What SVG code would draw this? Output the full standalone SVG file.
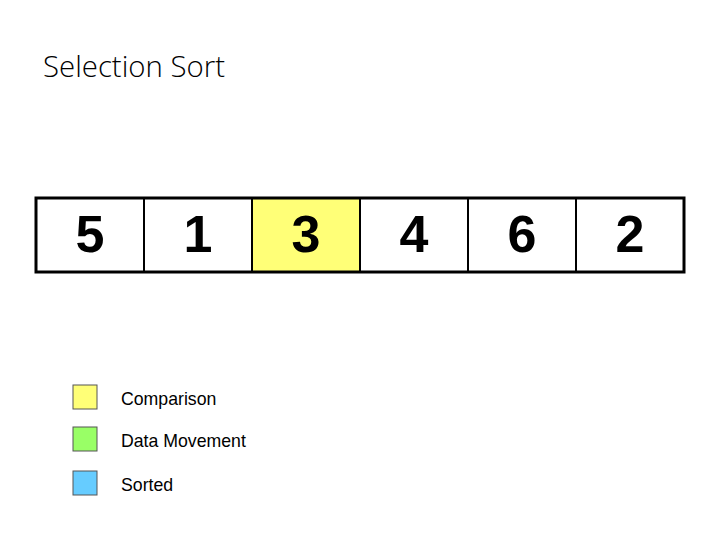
<svg xmlns="http://www.w3.org/2000/svg" width="720" height="540" viewBox="0 0 720 540">
<style>
.cell{fill:#fff;stroke:#000;stroke-width:2}
.num{font-family:"Liberation Sans",Arial,sans-serif;font-size:52px;font-weight:bold;text-anchor:middle;fill:#000}
.leg{font-family:"Liberation Sans",Arial,sans-serif;font-size:17.7px;fill:#000}
.sw{stroke:#555;stroke-width:1}
</style>
<rect width="720" height="540" fill="#fff"/>
<text x="43" y="77" font-family="'Open Sans',sans-serif" font-weight="300" font-size="29" textLength="182" lengthAdjust="spacingAndGlyphs" fill="#000">Selection Sort</text>
<g id="array">
<g id="cell0"><rect class="cell" x="36" y="198" width="108" height="74"/><text class="num" x="90" y="252">5</text></g>
<g id="cell1"><rect class="cell" x="144" y="198" width="108" height="74"/><text class="num" x="198" y="252">1</text></g>
<g id="cell2"><rect class="cell" x="252" y="198" width="108" height="74" style="fill:#ffff77"/><text class="num" x="306" y="252">3</text></g>
<g id="cell3"><rect class="cell" x="360" y="198" width="108" height="74"/><text class="num" x="414" y="252">4</text></g>
<g id="cell4"><rect class="cell" x="468" y="198" width="108" height="74"/><text class="num" x="522" y="252">6</text></g>
<g id="cell5"><rect class="cell" x="576" y="198" width="108" height="74"/><text class="num" x="630" y="252">2</text></g>
<rect x="36" y="198" width="648" height="74" fill="none" stroke="#000" stroke-width="3"/>
</g>
<g id="legend">
<g id="leg-comparison"><rect class="sw" x="73" y="385" width="24" height="24" fill="#ffff77"/><text class="leg" x="121" y="405">Comparison</text></g>
<g id="leg-movement"><rect class="sw" x="73" y="427" width="24" height="24" fill="#99ff66"/><text class="leg" x="121" y="447">Data Movement</text></g>
<g id="leg-sorted"><rect class="sw" x="73" y="471" width="24" height="24" fill="#66ccff"/><text class="leg" x="121" y="491">Sorted</text></g>
</g>
</svg>
